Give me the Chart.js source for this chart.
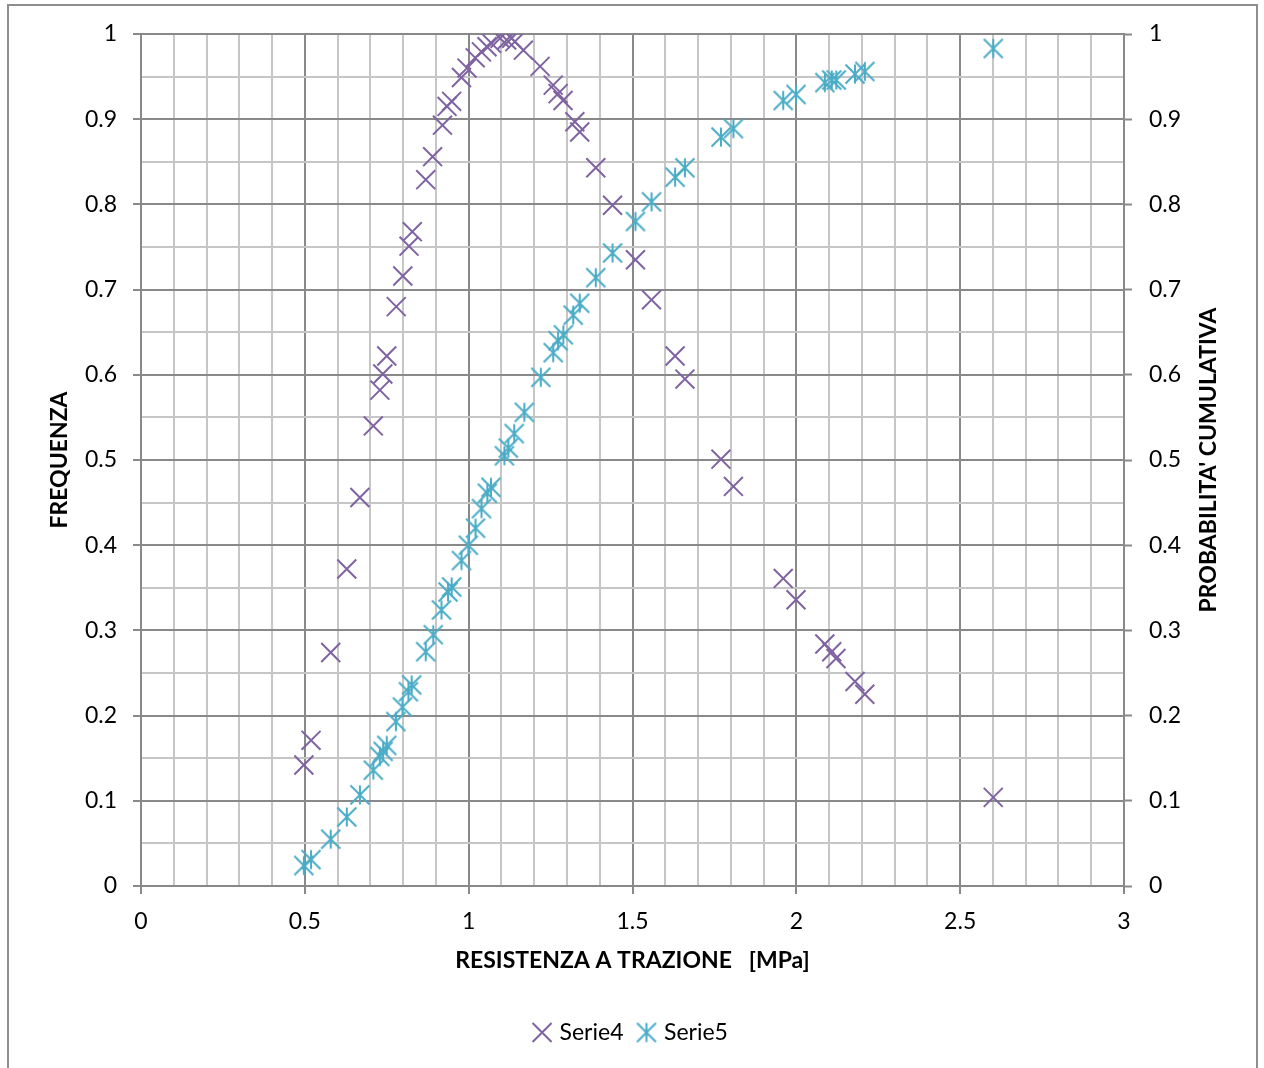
<!DOCTYPE html>
<html><head><meta charset="utf-8">
<script src="https://cdn.jsdelivr.net/npm/chart.js@4.4.1/dist/chart.umd.min.js"></script>
<style>
html,body{margin:0;padding:0;background:#fff;overflow:hidden;width:1264px;height:1068px}
#frame{position:absolute;left:7px;top:4px;width:1251px;height:1100px;border:2px solid #8e8e8e;box-sizing:border-box}
#c{position:absolute;left:0;top:0}
</style></head><body>
<div id="frame"></div>
<canvas id="c" width="1264" height="1068"></canvas>
<script>
// ---- data ----
const xSerie4 = [0.497,0.519,0.579,0.628,0.668,0.709,0.729,0.738,0.750,0.779,0.799,0.818,0.828,0.869,0.890,0.920,0.934,0.948,0.978,0.995,1.020,1.039,1.056,1.070,1.096,1.116,1.131,1.141,1.167,1.218,1.258,1.273,1.288,1.324,1.339,1.388,1.439,1.509,1.558,1.630,1.660,1.770,1.808,1.960,1.999,2.087,2.108,2.121,2.179,2.209,2.601];
const serie4 = [0.142,0.171,0.274,0.372,0.456,0.540,0.582,0.601,0.622,0.680,0.716,0.751,0.768,0.829,0.856,0.893,0.915,0.921,0.949,0.960,0.972,0.979,0.985,0.989,0.995,0.993,0.995,0.991,0.981,0.962,0.940,0.930,0.922,0.897,0.885,0.843,0.799,0.735,0.688,0.622,0.595,0.501,0.469,0.361,0.336,0.284,0.275,0.267,0.240,0.225,0.104];
const xSerie5 = [0.497,0.519,0.579,0.628,0.668,0.709,0.729,0.739,0.750,0.778,0.798,0.816,0.826,0.869,0.892,0.917,0.937,0.948,0.978,0.999,1.021,1.039,1.057,1.068,1.109,1.121,1.139,1.170,1.220,1.258,1.273,1.289,1.319,1.339,1.388,1.439,1.509,1.558,1.630,1.660,1.770,1.808,1.960,1.999,2.087,2.108,2.122,2.179,2.209,2.601];
const serie5 = [0.024,0.031,0.055,0.081,0.107,0.136,0.152,0.158,0.165,0.193,0.210,0.228,0.236,0.275,0.295,0.324,0.345,0.351,0.382,0.400,0.420,0.443,0.461,0.468,0.505,0.514,0.531,0.556,0.597,0.626,0.640,0.647,0.670,0.684,0.714,0.743,0.780,0.803,0.832,0.843,0.879,0.889,0.922,0.929,0.943,0.946,0.946,0.953,0.956,0.983];
const xTickLabels = [0,0.5,1,1.5,2,2.5,3];
const yTickLabels = [0,0.1,0.2,0.3,0.4,0.5,0.6,0.7,0.8,0.9,1];
const seriesNames = ['Serie4','Serie5'];
const axisTitles = {x:'RESISTENZA A TRAZIONE   [MPa]', y:'FREQUENZA', y2:"PROBABILITA' CUMULATIVA"};

const PURPLE = '#7f63a2', CYAN = '#4aacc6';
const MAJOR = '#898989', MINOR = '#c6c6c6';
const FONT = 'Lato';
const FS = 23;

function starMarker(color){
  const s = 26, c = document.createElement('canvas'); c.width = c.height = s;
  const g = c.getContext('2d'); const m = s/2, h = 9.5;
  g.strokeStyle = color; g.lineWidth = 2;
  g.beginPath();
  g.moveTo(m-h,m-h); g.lineTo(m+h,m+h);
  g.moveTo(m+h,m-h); g.lineTo(m-h,m+h);
  g.moveTo(m,m-h); g.lineTo(m,m+h);
  g.stroke();
  return c;
}
const isLabel = (list, v) => list.some(t => Math.abs(t - v) < 1e-6);
const fmt = v => String(Math.round(v*10)/10);

const rightTitle = {
  id:'rightTitle',
  afterDraw(chart){
    const {ctx, chartArea} = chart;
    ctx.save();
    ctx.translate(1209, (chartArea.top + chartArea.bottom)/2);
    ctx.rotate(-Math.PI/2);
    ctx.font = 'bold ' + FS + 'px ' + FONT;
    ctx.fillStyle = '#000';
    ctx.textAlign = 'center'; ctx.textBaseline = 'middle';
    ctx.fillText(axisTitles.y2, 0, 0);
    ctx.restore();
  }
};

Chart.defaults.font.family = FONT;
Chart.defaults.font.size = FS;
Chart.defaults.color = '#000';

const gridX = {
  color: c => isLabel(xTickLabels, c.tick.value) ? MAJOR : MINOR,
  lineWidth: 2,
  tickColor: c => isLabel(xTickLabels, c.tick.value) ? MAJOR : 'rgba(0,0,0,0)',
  tickLength: 8, tickWidth: 2
};
const gridY = {
  color: c => isLabel(yTickLabels, c.tick.value) ? MAJOR : MINOR,
  lineWidth: 2,
  tickColor: c => isLabel(yTickLabels, c.tick.value) ? MAJOR : 'rgba(0,0,0,0)',
  tickLength: 8, tickWidth: 2
};

new Chart(document.getElementById('c'), {
  type: 'scatter',
  data: {
    datasets: [
      { label: seriesNames[0], data: xSerie4.map((x,i)=>({x, y: serie4[i]})), yAxisID:'y',
        pointStyle:'crossRot', pointRadius:13.4, pointHoverRadius:13.4, pointBorderWidth:2,
        borderColor: PURPLE, backgroundColor: PURPLE, pointBorderColor: PURPLE },
      { label: seriesNames[1], data: xSerie5.map((x,i)=>({x, y: serie5[i]})), yAxisID:'y2',
        pointStyle: starMarker(CYAN), pointRadius:13, pointHoverRadius:13, pointBorderWidth:2,
        borderColor: CYAN, backgroundColor: CYAN, pointBorderColor: CYAN }
    ]
  },
  options: {
    responsive:false, animation:false,
    layout:{padding:{top:34, left:0, right:0, bottom:14}},
    plugins:{
      tooltip:{enabled:false},
      legend:{position:'bottom', labels:{usePointStyle:true, boxHeight:19, boxWidth:12, padding:17, color:'#000', font:{size:FS}}}
    },
    scales:{
      x:{ type:'linear', min:0, max:3,
        ticks:{stepSize:0.1, autoSkip:false, maxRotation:0, padding:14, callback: v => isLabel(xTickLabels, v) ? fmt(v) : ''},
        grid: gridX, border:{color:MAJOR, width:2},
        title:{display:true, text:axisTitles.x, font:{size:FS, weight:'bold'}, padding:{top:0,bottom:30}},
        afterFit: s => { s.height = 118; }
      },
      y:{ type:'linear', position:'left', min:0, max:1,
        ticks:{stepSize:0.05, autoSkip:false, padding:16, callback: v => isLabel(yTickLabels, v) ? fmt(v) : ''},
        grid: gridY, border:{color:MAJOR, width:2},
        title:{display:true, text:axisTitles.y, font:{size:FS, weight:'bold'}, padding:{top:46,bottom:0}},
        afterFit: s => { s.width = 141; }
      },
      y2:{ type:'linear', position:'right', min:0, max:1,
        ticks:{stepSize:0.05, autoSkip:false, padding:17, callback: v => isLabel(yTickLabels, v) ? fmt(v) : ''},
        grid:{ drawOnChartArea:false, tickColor: gridY.tickColor, tickLength:8, tickWidth:2 },
        border:{color:MAJOR, width:2},
        afterFit: s => { s.width = 140; }
      }
    }
  },
  plugins:[rightTitle]
});
</script>
</body></html>
